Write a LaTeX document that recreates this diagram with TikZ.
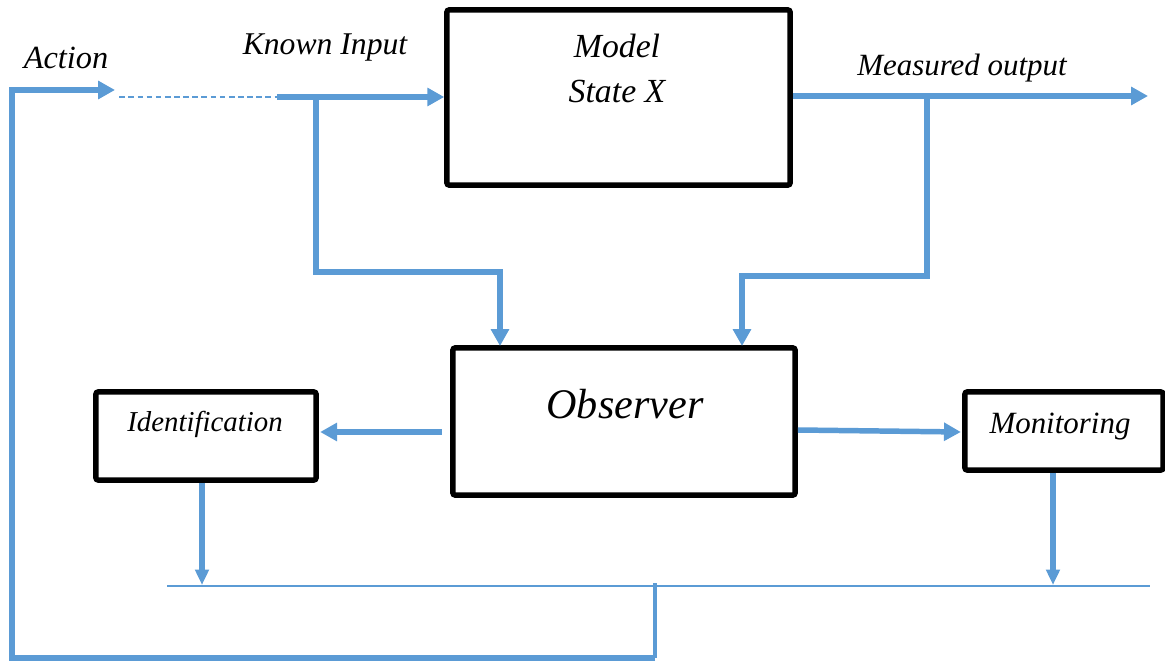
\documentclass[tikz,border=0pt]{standalone}
\usepackage{fontspec}
\setmainfont{Liberation Serif}[ItalicFont={Liberation Serif Italic}]
\newfontfamily\timesit{Liberation Serif Italic}
\usepackage{tikz}
\usetikzlibrary{arrows.meta}
\definecolor{flowblue}{RGB}{91,155,213}
\tikzset{
  block/.style={draw,line width=3.9pt,rounded corners=1.5pt,inner sep=0pt},
  txt/.style={font=\timesit\fontsize{22}{32}\selectfont,align=center,inner sep=0pt},
  flow/.style={draw=flowblue,line width=3.9pt,-{Triangle[length=12pt,width=12.5pt]}},
  busline/.style={draw=flowblue,line width=1.4pt},
  thinflow/.style={draw=flowblue,line width=3.6pt,-{Triangle[length=11pt,width=9.5pt]}}
}

\begin{document}
\begin{tikzpicture}[x=0.025cm,y=-0.025cm]
        \useasboundingbox (0,0) rectangle (1165,662);
        % boxes
        \node [block,minimum width=8.575cm,minimum height=4.375cm] (model) at (618.5,97.5) {};
        \node [block,minimum width=8.55cm,minimum height=3.675cm] (obs) at (624,421.5) {};
        \node [block,minimum width=5.5cm,minimum height=2.2cm] (ident) at (206,436) {};
        \node [block,minimum width=4.95cm,minimum height=1.95cm] (monit) at (1064,431) {};
        % texts
        \node [txt,font=\timesit\fontsize{24}{32}\selectfont] (modeltxt) at (617,68) {Model\\State X};
        \node [txt,font=\timesit\fontsize{30}{36}\selectfont] (obstxt) at (625,404) {Observer};
        \node [txt,font=\timesit\fontsize{20.5}{24}\selectfont] (identtxt) at (205,424) {Identification};
        \node [txt] (monittxt) at (1060,427) {Monitoring};
        \node [txt,font=\timesit\fontsize{23}{32}\selectfont] (acttxt) at (66,58) {Action};
        \node [txt,font=\timesit\fontsize{22.5}{32}\selectfont] (kintxt) at (325,48) {Known Input};
        \node [txt] (mouttxt) at (962,68) {Measured output};
        % points
        \coordinate (act) at (115,90);
        \coordinate (actin) at (12,90);
        \coordinate (kin) at (277,97);
        \coordinate (kbr) at (316,97);
        \coordinate (obsin1) at (500,346);
        \coordinate (mbr) at (927,96);
        \coordinate (mout) at (1148,96);
        \coordinate (obsin2) at (742,346);
        \coordinate (bus1) at (202,585);
        \coordinate (bus2) at (1053,585);
        \coordinate (busL) at (167,586);
        \coordinate (busR) at (1150,586);
        \coordinate (fb) at (655,583);
        % connectors
        \draw [flow] (kin) -- (model.west |- kin);
        \draw [flow] (kbr) -- ++(0,175) -| (obsin1);
        \draw [flow] (model.east |- mbr) -- (mout);
        \draw [flow] (mbr) -- ++(0,180) -| (obsin2);
        \draw [flow] ([xshift=-6pt]obs.west |- 0,432) -- ([xshift=1pt]ident.east |- 0,432);
        \draw [flow] (obs.east |- 0,430) -- ([xshift=-1pt]monit.west |- 0,432);
        \draw [thinflow] (ident.south -| bus1) -- (bus1);
        \draw [thinflow] (monit.south -| bus2) -- (bus2);
        \draw [busline] (busL) -- (busR);
        \draw [draw=flowblue,line width=2.5pt] (fb) -- (fb |- 0,658);
        \draw [flow] (fb |- 0,658) -- (actin |- 0,658) -- (actin) -- (act);
        \draw [draw=flowblue,line width=1pt,dash pattern=on 4pt off 2.5pt] ([xshift=3pt]act |- kin) -- (kin);
\end{tikzpicture}
\end{document}
